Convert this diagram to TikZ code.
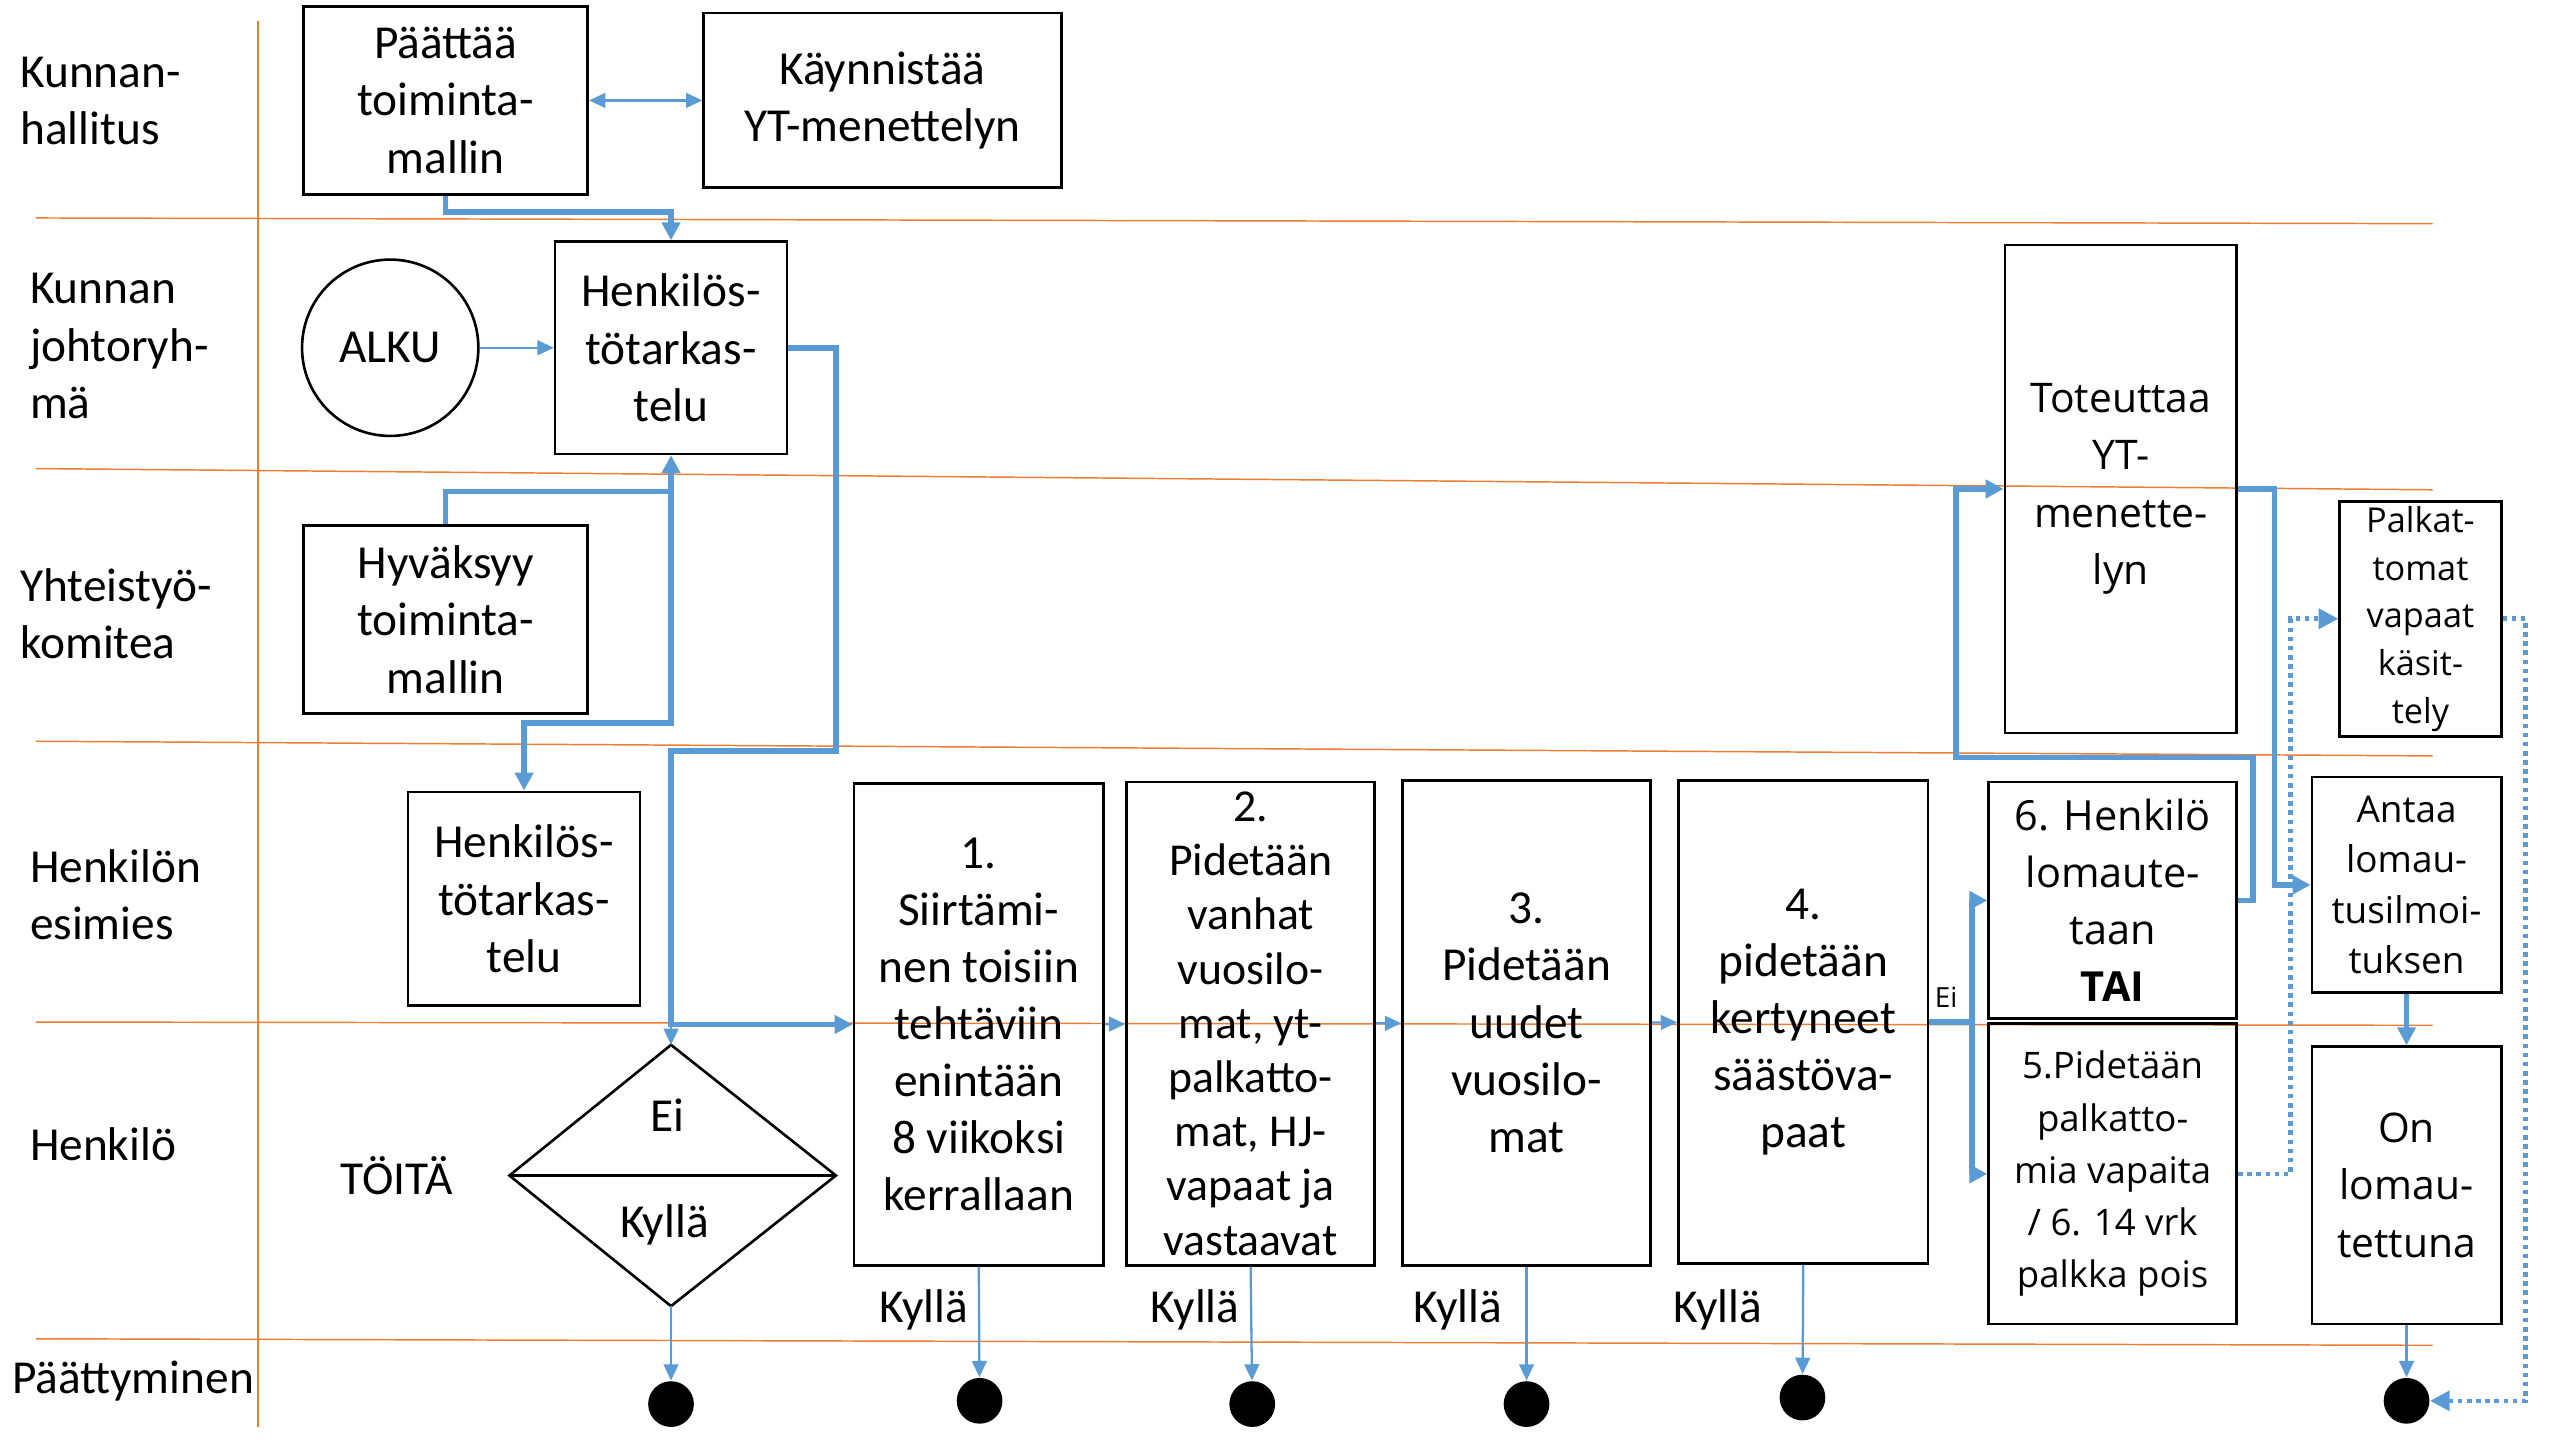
\documentclass[tikz,border=0pt]{standalone}
\usepackage{fontspec}
\setmainfont{Carlito}
\newfontfamily\widefont{Open Sans}
\usepackage{tikz}
\usetikzlibrary{arrows.meta,positioning,calc}

\definecolor{lanecol}{HTML}{ED7D31}
\definecolor{flowcol}{HTML}{5B9BD5}

\begin{document}
\begin{tikzpicture}[x=0.5pt, y=-0.5pt,
    lanefont/.style={font=\fontsize{14.5}{17.5}\selectfont},
    box/.style={draw, line width=0.8pt, inner sep=0pt, align=center, font=\fontsize{14.5}{17.5}\selectfont},
    swim/.style={lanecol, line width=0.45pt},
    flowthick/.style={flowcol, line width=1.7pt, -{Triangle[length=5.5pt, width=5.5pt]}},
    flowthin/.style={flowcol, line width=0.7pt, -{Triangle[length=5pt, width=4.5pt]}},
    flowdot/.style={flowcol, line width=1.4pt, dash pattern=on 1.4pt off 1.4pt, -{Triangle[length=6pt, width=6pt]}},
    endpt/.style={circle, fill=black, inner sep=0pt, minimum size=14pt},
]
    \useasboundingbox (0,0) rectangle (1568,882);

    % Swimlanes
    \draw[swim] (22,133.5) -- (1490,137);
    \draw[swim] (22,287) -- (1490,300);
    \draw[swim] (22,454) -- (1490,463);
    \draw[swim] (22,626) -- (1490,628);
    \draw[swim] (22,820) -- (1490,824);
    \draw[swim] (158,13) -- (158,874);

    % Lane names
    \node[lanefont, anchor=west, align=left, inner sep=0pt] (lhall) at (12,62) {Kunnan-\\hallitus};
    \node[lanefont, anchor=west, align=left, inner sep=0pt] (ljohto) at (18,212) {Kunnan\\johtoryh-\\mä};
    \node[lanefont, anchor=west, align=left, inner sep=0pt] (lyt) at (12,376) {Yhteistyö-\\komitea};
    \node[lanefont, anchor=west, align=left, inner sep=0pt] (lesim) at (18,548) {Henkilön\\esimies};
    \node[lanefont, anchor=west, align=left, inner sep=0pt] (lhenk) at (18,701) {Henkilö};
    \node[lanefont, anchor=west, align=left, inner sep=0pt] (lpaat) at (7,846) {Päättyminen};

    % Boxes, left part
    \node[box, minimum width=87pt, minimum height=57.5pt] (paattaa) at (273,61.5) {Päättää\\toiminta-\\mallin};
    \node[box, minimum width=109.5pt, minimum height=53.5pt] (kaynnistaa) at (540.5,61.5) {Käynnistää\\YT-menettelyn};
    \node[draw, line width=0.8pt, circle, minimum size=54pt, inner sep=0pt, lanefont] (alku) at (239,213) {ALKU};
    \node[box, minimum width=71pt, minimum height=65pt] (jhenk) at (411,213) {Henkilös-\\tötarkas-\\telu};
    \node[box, minimum width=87pt, minimum height=57.5pt] (hyvaksyy) at (273,379.5) {Hyväksyy\\toiminta-\\mallin};
    \node[box, minimum width=71pt, minimum height=65.5pt] (ehenk) at (321,550.5) {Henkilös-\\tötarkas-\\telu};

    % Decision
    \coordinate (dtop) at (411,640);
    \coordinate (dbot) at (411,800);
    \coordinate (dleft) at (312,720);
    \coordinate (dright) at (512,720);
    \draw[line width=0.8pt] (dtop) -- (dright) -- (dbot) -- (dleft) -- cycle;
    \draw[line width=0.8pt] (dleft) -- (dright);
    \node[lanefont] (dei) at (409,683) {Ei};
    \node[lanefont] (dkylla) at (407,750) {Kyllä};
    \node[lanefont] (toita) at (243,720) {TÖITÄ};

    % Steps 1-4
    \node[box, minimum width=76.5pt, minimum height=147.5pt] (b1) at (599.5,627.5) {1.\\Siirtämi-\\nen toisiin\\tehtäviin\\enintään\\8 viikoksi\\kerrallaan};
    \node[box, minimum width=76pt, minimum height=148pt, font=\fontsize{14}{16.6}\selectfont] (b2) at (766,627) {2.\\Pidetään\\vanhat\\vuosilo-\\mat, yt-\\palkatto-\\mat, HJ-\\vapaat ja\\vastaavat};
    \node[box, minimum width=76pt, minimum height=148.5pt] (b3) at (935,626.5) {3.\\Pidetään\\uudet\\vuosilo-\\mat};
    \node[box, minimum width=76.5pt, minimum height=148pt] (b4) at (1104.5,626) {4.\\pidetään\\kertyneet\\säästöva-\\paat};

    % Boxes, right part
    \node[box, minimum width=76pt, minimum height=72.5pt, font=\widefont\fontsize{12.7}{17.5}\selectfont] (b6) at (1294,551.5) {6. Henkilö\\lomaute-\\taan\\\textbf{TAI}};
    \node[box, minimum width=76pt, minimum height=92pt, font=\widefont\fontsize{11.2}{16}\selectfont] (b5) at (1294,719) {5.Pidetään\\palkatto-\\mia vapaita\\/ 6. 14 vrk\\palkka pois};
    \node[box, minimum width=71pt, minimum height=149.5pt, font=\widefont\fontsize{12.5}{17.6}\selectfont] (toteuttaa) at (1299,299.5) {Toteuttaa\\YT-\\menette-\\lyn};
    \node[box, minimum width=49.5pt, minimum height=72pt, font=\widefont\fontsize{10.5}{14.6}\selectfont] (palk) at (1482.5,379) {Palkat-\\tomat\\vapaat\\käsit-\\tely};
    \node[box, minimum width=58pt, minimum height=66pt, font=\widefont\fontsize{11.3}{15.5}\selectfont] (antaa) at (1474,542) {Antaa\\lomau-\\tusilmoi-\\tuksen};
    \node[box, minimum width=58pt, minimum height=85pt, font=\widefont\fontsize{12.5}{17.7}\selectfont] (onlom) at (1474,726) {On\\lomau-\\tettuna};

    % End points
    \node[endpt] (e0) at (411,860) {};
    \node[endpt] (e1) at (600,858) {};
    \node[endpt] (e2) at (767,860) {};
    \node[endpt] (e3) at (935,860) {};
    \node[endpt] (e4) at (1104,856) {};
    \node[endpt] (eR) at (1474,858) {};

    % Kyllä labels
    \node[lanefont] (k1) at (566,802) {Kyllä};
    \node[lanefont] (k2) at (732,802) {Kyllä};
    \node[lanefont] (k3) at (893,802) {Kyllä};
    \node[lanefont] (k4) at (1052,802) {Kyllä};
    \node[font=\widefont\fontsize{8.5}{10}\selectfont] (ei4) at (1192,611) {Ei};

    % Flows
    \draw[flowthin, {Triangle[length=5pt, width=4.5pt]}-{Triangle[length=5pt, width=4.5pt]}] (paattaa.east) -- (kaynnistaa.west);
    \draw[flowthick] (paattaa.south) -- ++(0,10) -| (jhenk.north);
    \draw[flowthin] (alku) -- (jhenk);
    \coordinate (hjunc) at (411,301);
    \draw[flowthick] (hyvaksyy.north) |- (hjunc) -- (jhenk.south);
    \draw[flowthick] (hjunc) -- (411,443) -| (ehenk.north);
    \coordinate (split) at (411,627.5);
    \draw[flowthick] (jhenk.east) -- (512,213) -- (512,460) -- (411,460) -- (split) -- (b1.west);
    \draw[flowthin] (split) -- (dtop);
    \draw[flowthin] (dbot) -- (e0);
    \draw[flowthin] (b1) -- (b2);
    \draw[flowthin] (b2) -- (b3);
    \draw[flowthin] (b3) -- (b4);
    \draw[flowthin] (b1.south) -- (e1);
    \draw[flowthin] (b2.south) -- (e2);
    \draw[flowthin] (b3.south) -- (e3);
    \draw[flowthin] (b4.south) -- (e4);
    \coordinate (eisplit) at (1208,626);
    \draw[flowthick, -] (b4.east) -- (eisplit);
    \draw[flowthick] (eisplit) |- (b6.west);
    \draw[flowthick] (eisplit) |- (b5.west);
    \draw[flowthick] (b6.east) -- (1380,551.5) -- (1380,464) -- (1198,464) |- (toteuttaa.west);
    \draw[flowthick] (toteuttaa.east) -- (1393,299.5) |- (antaa.west);
    \draw[flowdot] (b5.east) -- (1403,719) |- (palk.west);
    \draw[flowdot] (palk.east) -- (1547,379) |- (eR.east);
    \draw[flowthick, line width=1.3pt] (antaa.south) -- (onlom.north);
    \draw[flowthin] (onlom.south) -- (eR);
\end{tikzpicture}
\end{document}
